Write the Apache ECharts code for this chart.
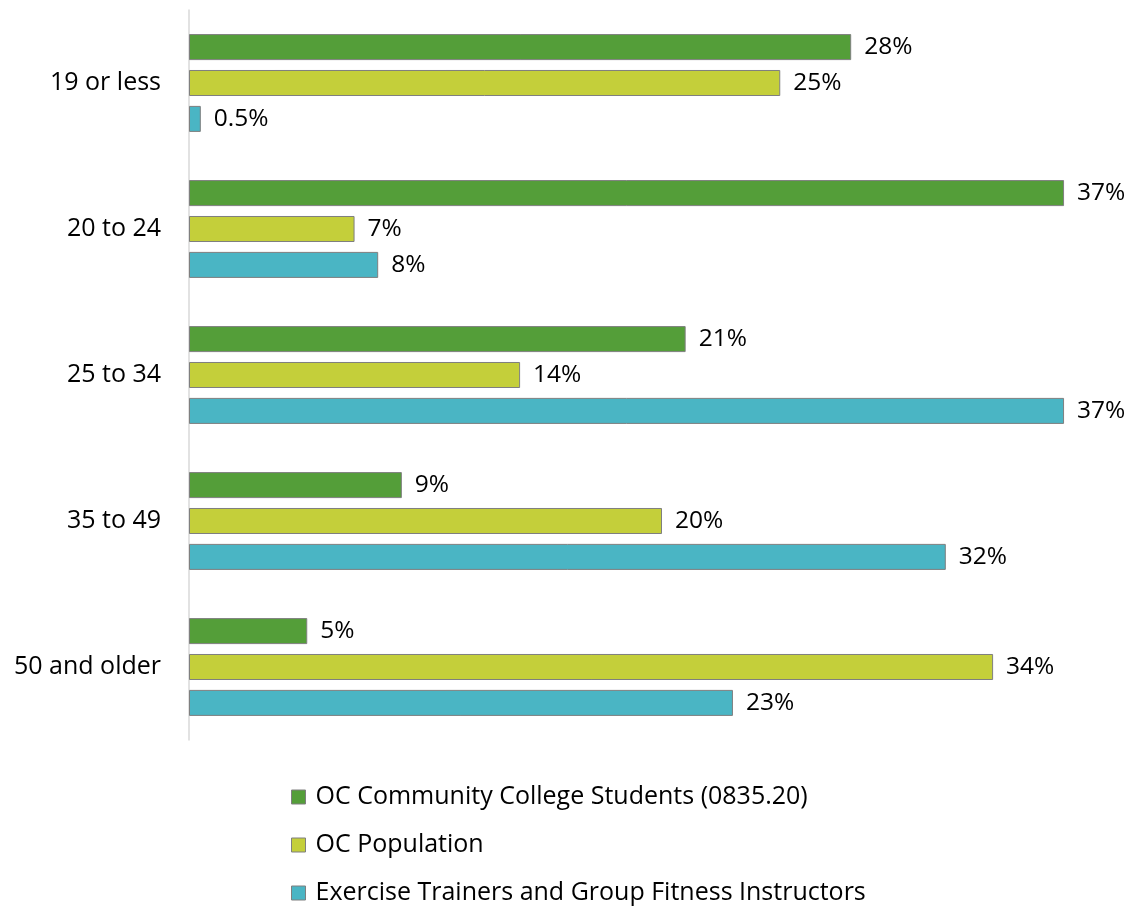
<!DOCTYPE html>
<html>
<head>
<meta charset="utf-8">
<script src="https://cdn.jsdelivr.net/npm/echarts@6/dist/echarts.min.js"></script>
<style>
  html, body { margin: 0; padding: 0; background: #fff; }
  #chart { width: 1135px; height: 916px; }
</style>
</head>
<body>
<div id="chart"></div>
<script>
// Age groups, top to bottom
const ageGroups = ['19 or less', '20 to 24', '25 to 34', '35 to 49', '50 and older'];

// Share of each group, in percent
const studentsPct = [28, 37, 21, 9, 5];
const populationPct = [25, 7, 14, 20, 34];
const trainersPct = [0.5, 8, 37, 32, 23];

const seriesNames = [
  'OC Community College Students (0835.20)',
  'OC Population',
  'Exercise Trainers and Group Fitness Instructors'
];
const seriesColors = ['#549E39', '#C4CF3A', '#4AB5C4'];

const FONT = '"Open Sans", "Noto Sans", sans-serif';

function barSeries(name, data, color) {
  return {
    name: name,
    type: 'bar',
    data: data,
    barCategoryGap: '33%',
    barGap: '38%',
    itemStyle: { color: color, borderColor: '#7F7F7F', borderWidth: 1 },
    label: {
      show: true,
      position: 'right',
      distance: 13,
      color: '#000',
      fontFamily: FONT,
      fontSize: 24.5,
      formatter: p => p.value + '%'
    }
  };
}

const chart = echarts.init(document.getElementById('chart'), null, { renderer: 'canvas' });
chart.setOption({
  animation: false,
  backgroundColor: '#fff',
  grid: { left: 189, right: 0, top: 10, bottom: 176, containLabel: false },
  xAxis: {
    type: 'value',
    min: 0,
    max: 40,
    show: false
  },
  yAxis: {
    type: 'category',
    data: ageGroups,
    inverse: true,
    axisLine: { show: true, lineStyle: { color: '#D9D9D9', width: 1.5 } },
    axisTick: { show: false },
    axisLabel: { color: '#000', fontFamily: FONT, fontSize: 25, margin: 28 }
  },
  legend: {
    orient: 'vertical',
    left: 291,
    top: 782,
    height: 134,
    padding: 0,
    itemWidth: 14,
    itemHeight: 14,
    itemGap: 18,
    icon: 'rect',
    textStyle: {
      color: '#000', fontFamily: FONT, fontSize: 25, lineHeight: 30,
      padding: [0, 0, 0, 5]
    },
    data: seriesNames.map((n, i) => ({
      name: n,
      itemStyle: { color: seriesColors[i], borderColor: '#7F7F7F', borderWidth: 1 }
    }))
  },
  series: [
    barSeries(seriesNames[0], studentsPct, seriesColors[0]),
    barSeries(seriesNames[1], populationPct, seriesColors[1]),
    barSeries(seriesNames[2], trainersPct, seriesColors[2])
  ]
});
</script>
</body>
</html>
